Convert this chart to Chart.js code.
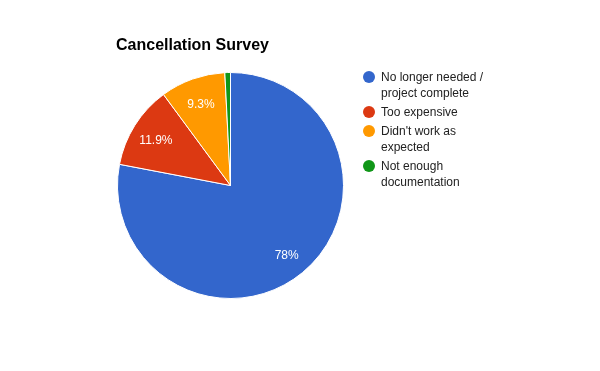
<!DOCTYPE html>
<html>
<head>
<meta charset="utf-8">
<script src="https://cdn.jsdelivr.net/npm/chart.js@4/dist/chart.umd.min.js"></script>
<style>
  html, body { margin: 0; padding: 0; background: #fff; }
  #wrap { position: relative; width: 600px; height: 371px; }
  #legend { position: absolute; left: 363px; top: 69px; font-family: Arial, "Liberation Sans", sans-serif; font-size: 12px; color: #222; }
  .item { display: flex; align-items: flex-start; margin-bottom: 3px; }
  .dot { width: 12px; height: 12px; border-radius: 50%; margin-top: 2px; margin-right: 6px; flex: none; }
  .txt { width: 125px; line-height: 16px; }
</style>
</head>
<body>
<div id="wrap">
  <canvas id="c" width="600" height="371"></canvas>
  <div id="legend"></div>
</div>
<script>
const categories = ["No longer needed / project complete", "Too expensive", "Didn't work as expected", "Not enough documentation"];
const values = [78, 11.9, 9.3, 0.8];
const colors = ["#3366cc", "#dc3912", "#ff9900", "#109618"];
const chartTitle = "Cancellation Survey";

const sliceLabels = {
  id: 'sliceLabels',
  afterDatasetsDraw(chart) {
    const ctx = chart.ctx;
    const meta = chart.getDatasetMeta(0);
    const total = values.reduce((a, b) => a + b, 0);
    ctx.save();
    ctx.font = '12px Arial, "Liberation Sans", sans-serif';
    ctx.fillStyle = '#ffffff';
    ctx.textAlign = 'center';
    ctx.textBaseline = 'middle';
    meta.data.forEach((arc, i) => {
      const pct = values[i] / total * 100;
      if (pct < 5) return;
      const p = arc.getProps(['x', 'y', 'startAngle', 'endAngle', 'outerRadius'], true);
      const mid = (p.startAngle + p.endAngle) / 2;
      const r = p.outerRadius * 0.78;
      ctx.fillText((Math.round(pct * 10) / 10) + '%', p.x + Math.cos(mid) * r, p.y + Math.sin(mid) * r + 2);
    });
    ctx.restore();
  }
};

new Chart(document.getElementById('c'), {
  type: 'pie',
  data: {
    labels: categories,
    datasets: [{
      data: values,
      backgroundColor: colors,
      borderColor: '#ffffff',
      borderWidth: 1
    }]
  },
  options: {
    responsive: false,
    animation: false,
    layout: { padding: { top: 36.4, left: 116, right: 255, bottom: 72 } },
    plugins: {
      legend: { display: false },
      tooltip: { enabled: false },
      title: {
        display: true,
        text: chartTitle,
        align: 'start',
        color: '#000',
        font: { family: 'Arial, "Liberation Sans", sans-serif', size: 16, weight: 'bold', lineHeight: 1.2 },
        padding: { top: 0, bottom: 16.4 }
      }
    }
  },
  plugins: [sliceLabels]
});

const legend = document.getElementById('legend');
categories.forEach((c, i) => {
  const item = document.createElement('div');
  item.className = 'item';
  const dot = document.createElement('div');
  dot.className = 'dot';
  dot.style.background = colors[i];
  const t = document.createElement('div');
  t.className = 'txt';
  t.textContent = c;
  item.appendChild(dot);
  item.appendChild(t);
  legend.appendChild(item);
});
</script>
</body>
</html>
